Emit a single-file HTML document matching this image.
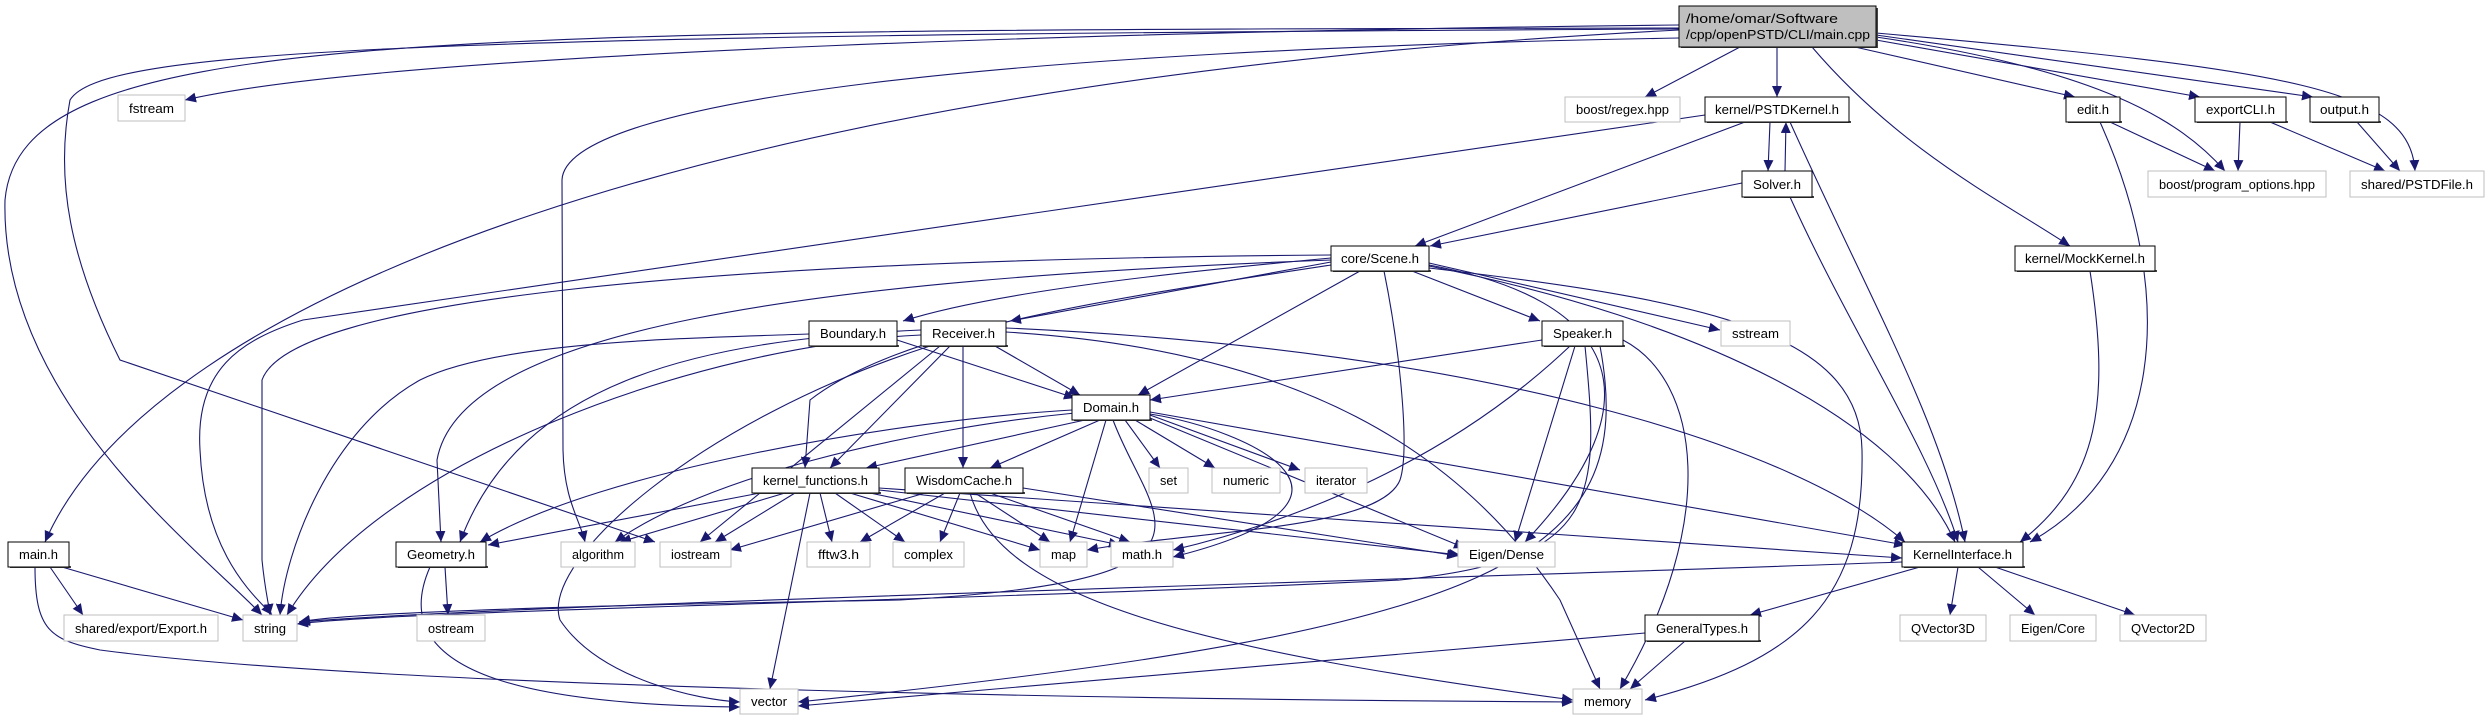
<!DOCTYPE html>
<html><head><meta charset="utf-8"><style>
body{margin:0;background:#fff;}
svg{display:block}
text{font-family:"Liberation Sans",sans-serif;font-size:13px;fill:#000}
.e{fill:none;stroke:#191970;stroke-width:1.1}
.p{fill:#fff;stroke:#000;stroke-width:1}
.s{fill:#fff;stroke:#bfbfbf;stroke-width:1}
.sh{fill:#444}
</style></head><body>
<svg width="2489" height="725" viewBox="0 0 2489 725" xmlns="http://www.w3.org/2000/svg">
<defs><marker id="a" markerUnits="userSpaceOnUse" markerWidth="12" markerHeight="10" refX="11" refY="5" orient="auto"><path d="M0,0 L11,5 L0,10 z" fill="#191970"/></marker></defs>
<g class="e" marker-end="url(#a)">
<path d="M1679,25 C1200,30 400,50 185,100"/>
<path d="M1740,47 L1645,97"/>
<path d="M1777,47 L1777,97"/>
<path d="M1855,47 L2075,97"/>
<path d="M1876,40 L2200,97"/>
<path d="M1876,35 L2313,97"/>
<path d="M1876,37 C2100,70 2180,120 2225,171"/>
<path d="M1876,33 C2300,70 2410,90 2415,171"/>
<path d="M1812,47 C1900,150 2000,200 2070,246"/>
<path d="M1679,30 C700,80 150,300 45,542"/>
<path d="M1679,28 C400,30 20,30 5,200 C0,400 200,550 262,615"/>
<path d="M1679,29 C400,35 100,50 70,100 C55,180 70,260 120,360 L655,542"/>
<path d="M1679,38 C1000,50 565,100 562,180 L563,450 C564,500 580,520 585,542"/>
<path d="M1705,115 L303,320 C240,340 195,370 200,450 C205,560 260,600 272,615"/>
<path d="M1745,122 L1415,246"/>
<path d="M1770,122 L1768,171"/>
<path d="M1785,171 L1786,122"/>
<path d="M1790,122 C1870,300 1940,420 1965,542"/>
<path d="M1742,183 L1430,246"/>
<path d="M1790,197 C1850,330 1930,450 1958,542"/>
<path d="M2110,122 L2215,171"/>
<path d="M2100,122 C2180,300 2160,470 2030,542"/>
<path d="M2240,122 L2238,171"/>
<path d="M2270,122 L2385,171"/>
<path d="M2357,122 L2400,171"/>
<path d="M2090,271 C2110,400 2100,480 2020,542"/>
<path d="M1331,258 C1200,270 1000,290 903,321"/>
<path d="M1331,262 L1010,321"/>
<path d="M1360,271 L1138,395"/>
<path d="M1412,271 L1540,321"/>
<path d="M1429,263 L1720,330"/>
<path d="M1429,265 C1620,300 1660,400 1525,542"/>
<path d="M1429,268 C1700,300 1860,330 1862,450 C1865,600 1800,660 1645,700"/>
<path d="M1429,266 C1700,320 1900,420 1955,542"/>
<path d="M1384,271 C1400,350 1410,450 1400,480 C1380,530 1200,530 1087,550"/>
<path d="M1331,255 C700,260 290,300 262,380 L262,560 C265,590 268,600 270,615"/>
<path d="M1331,260 C800,280 460,330 437,460 L441,542"/>
<path d="M1331,265 C1100,300 900,330 810,400 L805,468"/>
<path d="M809,334 C700,338 500,340 420,380 C330,430 285,550 280,615"/>
<path d="M897,340 L1075,398"/>
<path d="M921,330 C700,340 520,380 460,542"/>
<path d="M921,335 C700,345 380,460 287,615"/>
<path d="M940,346 L700,542"/>
<path d="M950,346 L830,468"/>
<path d="M963,346 L963,468"/>
<path d="M995,346 L1080,395"/>
<path d="M930,346 C700,420 540,560 560,620 C600,680 700,700 740,702"/>
<path d="M1006,332 C1300,350 1460,450 1560,600 L1600,689"/>
<path d="M1006,328 C1500,350 1800,450 1905,542"/>
<path d="M1542,340 L1150,400"/>
<path d="M1570,346 C1450,460 1300,520 1173,550"/>
<path d="M1575,346 L1515,542"/>
<path d="M1585,346 C1600,500 1600,560 1400,580 C1000,600 400,610 297,624"/>
<path d="M1600,346 C1640,560 1500,630 798,702"/>
<path d="M1623,340 C1700,380 1720,520 1620,689"/>
<path d="M1072,410 C900,420 600,470 480,542"/>
<path d="M1075,413 C900,430 700,480 615,542"/>
<path d="M1085,420 L866,468"/>
<path d="M1100,420 L990,468"/>
<path d="M1125,420 L1160,468"/>
<path d="M1135,420 L1215,468"/>
<path d="M1150,415 L1300,470"/>
<path d="M1106,420 L1070,542"/>
<path d="M1150,418 L1465,548"/>
<path d="M1150,412 L1905,545"/>
<path d="M1113,420 C1150,520 1250,580 900,600 C600,605 350,612 299,622"/>
<path d="M1150,414 C1250,430 1400,500 1173,557"/>
<path d="M760,493 L488,545"/>
<path d="M785,493 L620,542"/>
<path d="M795,493 L715,542"/>
<path d="M820,493 L832,542"/>
<path d="M835,493 L905,542"/>
<path d="M810,493 L770,689"/>
<path d="M850,493 L1040,550"/>
<path d="M870,493 L1120,545"/>
<path d="M879,490 L1460,555"/>
<path d="M879,488 L1902,558"/>
<path d="M925,493 L730,550"/>
<path d="M945,493 L860,542"/>
<path d="M960,493 L940,542"/>
<path d="M975,493 L1050,542"/>
<path d="M990,493 L1130,542"/>
<path d="M970,493 C1000,600 1200,650 1573,700"/>
<path d="M1023,488 L1458,556"/>
<path d="M50,567 L83,615"/>
<path d="M62,567 L243,620"/>
<path d="M35,567 C35,630 50,640 100,650 C400,690 1200,700 1573,702"/>
<path d="M445,567 L448,615"/>
<path d="M430,567 C380,680 550,705 740,707"/>
<path d="M1902,562 C1400,580 500,605 299,622"/>
<path d="M1920,567 L1750,615"/>
<path d="M1958,567 L1950,615"/>
<path d="M1978,567 L2035,615"/>
<path d="M1995,567 L2135,615"/>
<path d="M1645,633 L798,706"/>
<path d="M1685,641 L1630,689"/>
</g>
<!-- shadows for project nodes -->
<g class="sh">
<rect x="1681" y="46" width="197" height="2"/><rect x="1876" y="8" width="2" height="40"/>
<rect x="1707" y="121" width="144" height="2"/><rect x="2068" y="121" width="54" height="2"/>
<rect x="2197" y="121" width="91" height="2"/><rect x="2312" y="121" width="69" height="2"/>
<rect x="1744" y="196" width="70" height="2"/><rect x="1333" y="270" width="98" height="2"/>
<rect x="2017" y="270" width="140" height="2"/><rect x="811" y="345" width="88" height="2"/>
<rect x="923" y="345" width="85" height="2"/><rect x="1544" y="345" width="81" height="2"/>
<rect x="1074" y="419" width="78" height="2"/><rect x="754" y="492" width="127" height="2"/>
<rect x="907" y="492" width="118" height="2"/><rect x="10" y="566" width="61" height="2"/>
<rect x="398" y="566" width="90" height="2"/><rect x="1904" y="566" width="121" height="2"/>
<rect x="1647" y="640" width="114" height="2"/>
</g>
<!-- nodes -->
<rect x="1679" y="6" width="197" height="41" fill="#bfbfbf" stroke="#000"/>
<text x="1686" y="23" textLength="152" lengthAdjust="spacingAndGlyphs">/home/omar/Software</text>
<text x="1686" y="39" textLength="184" lengthAdjust="spacingAndGlyphs">/cpp/openPSTD/CLI/main.cpp</text>
<g>
<rect class="s" x="118" y="95" width="67" height="26"/><text x="129" y="113" textLength="45" lengthAdjust="spacingAndGlyphs">fstream</text>
<rect class="s" x="1565" y="97" width="115" height="25"/><text x="1576" y="114" textLength="93" lengthAdjust="spacingAndGlyphs">boost/regex.hpp</text>
<rect class="p" x="1705" y="97" width="144" height="25"/><text x="1715" y="114" textLength="124" lengthAdjust="spacingAndGlyphs">kernel/PSTDKernel.h</text>
<rect class="p" x="2066" y="97" width="54" height="25"/><text x="2077" y="114" textLength="32" lengthAdjust="spacingAndGlyphs">edit.h</text>
<rect class="p" x="2195" y="97" width="91" height="25"/><text x="2206" y="114" textLength="69" lengthAdjust="spacingAndGlyphs">exportCLI.h</text>
<rect class="p" x="2310" y="97" width="69" height="25"/><text x="2320" y="114" textLength="49" lengthAdjust="spacingAndGlyphs">output.h</text>
<rect class="p" x="1742" y="171" width="70" height="26"/><text x="1753" y="189" textLength="48" lengthAdjust="spacingAndGlyphs">Solver.h</text>
<rect class="s" x="2148" y="171" width="178" height="26"/><text x="2159" y="189" textLength="156" lengthAdjust="spacingAndGlyphs">boost/program_options.hpp</text>
<rect class="s" x="2350" y="171" width="134" height="26"/><text x="2361" y="189" textLength="112" lengthAdjust="spacingAndGlyphs">shared/PSTDFile.h</text>
<rect class="p" x="1331" y="246" width="98" height="25"/><text x="1341" y="263" textLength="78" lengthAdjust="spacingAndGlyphs">core/Scene.h</text>
<rect class="p" x="2015" y="246" width="140" height="25"/><text x="2025" y="263" textLength="120" lengthAdjust="spacingAndGlyphs">kernel/MockKernel.h</text>
<rect class="p" x="809" y="321" width="88" height="25"/><text x="820" y="338" textLength="66" lengthAdjust="spacingAndGlyphs">Boundary.h</text>
<rect class="p" x="921" y="321" width="85" height="25"/><text x="932" y="338" textLength="63" lengthAdjust="spacingAndGlyphs">Receiver.h</text>
<rect class="p" x="1542" y="321" width="81" height="25"/><text x="1553" y="338" textLength="59" lengthAdjust="spacingAndGlyphs">Speaker.h</text>
<rect class="s" x="1721" y="321" width="69" height="25"/><text x="1732" y="338" textLength="47" lengthAdjust="spacingAndGlyphs">sstream</text>
<rect class="p" x="1072" y="395" width="78" height="25"/><text x="1083" y="412" textLength="56" lengthAdjust="spacingAndGlyphs">Domain.h</text>
<rect class="p" x="752" y="468" width="127" height="25"/><text x="763" y="485" textLength="105" lengthAdjust="spacingAndGlyphs">kernel_functions.h</text>
<rect class="p" x="905" y="468" width="118" height="25"/><text x="916" y="485" textLength="96" lengthAdjust="spacingAndGlyphs">WisdomCache.h</text>
<rect class="s" x="1149" y="468" width="39" height="25"/><text x="1160" y="485" textLength="17" lengthAdjust="spacingAndGlyphs">set</text>
<rect class="s" x="1212" y="468" width="68" height="25"/><text x="1223" y="485" textLength="46" lengthAdjust="spacingAndGlyphs">numeric</text>
<rect class="s" x="1305" y="468" width="62" height="25"/><text x="1316" y="485" textLength="40" lengthAdjust="spacingAndGlyphs">iterator</text>
<rect class="p" x="8" y="542" width="61" height="25"/><text x="19" y="559" textLength="39" lengthAdjust="spacingAndGlyphs">main.h</text>
<rect class="p" x="396" y="542" width="90" height="25"/><text x="407" y="559" textLength="68" lengthAdjust="spacingAndGlyphs">Geometry.h</text>
<rect class="s" x="561" y="542" width="74" height="25"/><text x="572" y="559" textLength="52" lengthAdjust="spacingAndGlyphs">algorithm</text>
<rect class="s" x="660" y="542" width="71" height="25"/><text x="671" y="559" textLength="49" lengthAdjust="spacingAndGlyphs">iostream</text>
<rect class="s" x="807" y="542" width="63" height="25"/><text x="818" y="559" textLength="41" lengthAdjust="spacingAndGlyphs">fftw3.h</text>
<rect class="s" x="893" y="542" width="71" height="25"/><text x="904" y="559" textLength="49" lengthAdjust="spacingAndGlyphs">complex</text>
<rect class="s" x="1040" y="542" width="47" height="25"/><text x="1051" y="559" textLength="25" lengthAdjust="spacingAndGlyphs">map</text>
<rect class="s" x="1111" y="542" width="62" height="25"/><text x="1122" y="559" textLength="40" lengthAdjust="spacingAndGlyphs">math.h</text>
<rect class="s" x="1458" y="542" width="97" height="25"/><text x="1469" y="559" textLength="75" lengthAdjust="spacingAndGlyphs">Eigen/Dense</text>
<rect class="p" x="1902" y="542" width="121" height="25"/><text x="1913" y="559" textLength="99" lengthAdjust="spacingAndGlyphs">KernelInterface.h</text>
<rect class="s" x="64" y="615" width="154" height="26"/><text x="75" y="633" textLength="132" lengthAdjust="spacingAndGlyphs">shared/export/Export.h</text>
<rect class="s" x="243" y="615" width="54" height="26"/><text x="254" y="633" textLength="32" lengthAdjust="spacingAndGlyphs">string</text>
<rect class="s" x="417" y="615" width="68" height="26"/><text x="428" y="633" textLength="46" lengthAdjust="spacingAndGlyphs">ostream</text>
<rect class="p" x="1645" y="615" width="114" height="26"/><text x="1656" y="633" textLength="92" lengthAdjust="spacingAndGlyphs">GeneralTypes.h</text>
<rect class="s" x="1900" y="615" width="86" height="26"/><text x="1911" y="633" textLength="64" lengthAdjust="spacingAndGlyphs">QVector3D</text>
<rect class="s" x="2010" y="615" width="86" height="26"/><text x="2021" y="633" textLength="64" lengthAdjust="spacingAndGlyphs">Eigen/Core</text>
<rect class="s" x="2120" y="615" width="86" height="26"/><text x="2131" y="633" textLength="64" lengthAdjust="spacingAndGlyphs">QVector2D</text>
<rect class="s" x="740" y="689" width="58" height="25"/><text x="751" y="706" textLength="36" lengthAdjust="spacingAndGlyphs">vector</text>
<rect class="s" x="1573" y="689" width="69" height="25"/><text x="1584" y="706" textLength="47" lengthAdjust="spacingAndGlyphs">memory</text>
</g>
</svg>
</body></html>
